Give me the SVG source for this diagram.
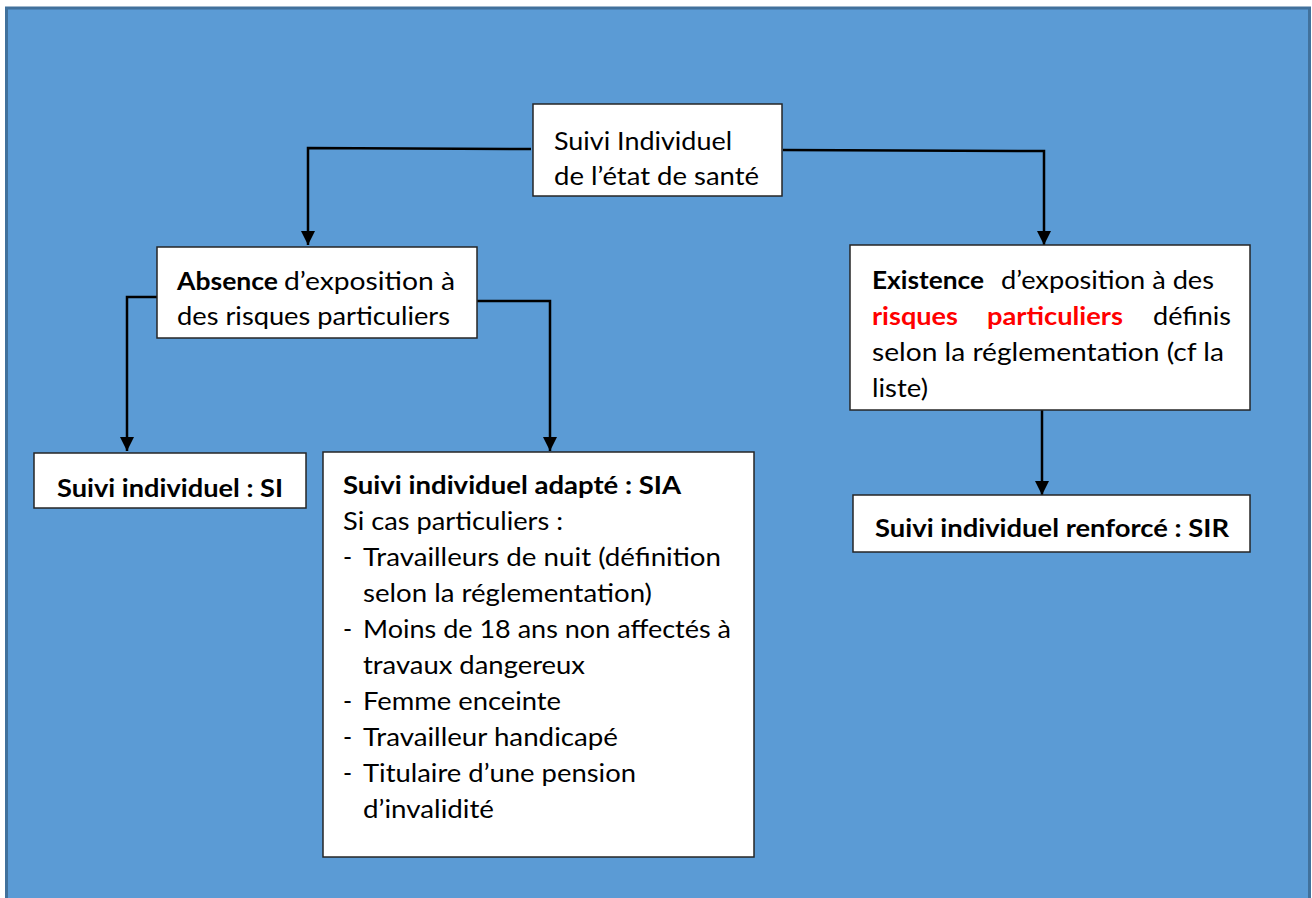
<svg xmlns="http://www.w3.org/2000/svg" width="1312" height="898" viewBox="0 0 1312 898">
<defs>
<style>
.bg{fill:#5B9BD5;stroke:#41719C;stroke-width:3}
.box{fill:#FFFFFF;stroke:#262626;stroke-width:1.5}
.t{font-family:Lato,"Liberation Sans",sans-serif;font-size:24.5px;fill:#000}
.b{font-weight:bold}
.red{fill:#FF0000;font-weight:bold}
.c{fill:none;stroke:#000;stroke-width:2.5}
</style>
<marker id="arr" viewBox="0 0 10 10" refX="10" refY="5" markerWidth="5.8" markerHeight="5.8" markerUnits="strokeWidth" orient="auto">
<path d="M0,0 L10,5 L0,10 z" fill="#000"/>
</marker>
</defs>
<rect width="1312" height="898" fill="#FFFFFF"/>
<rect class="bg" x="6.5" y="8" width="1303" height="900"/>

<g id="connectors">
<path class="c" d="M531,149 L308,148 L308,245" marker-end="url(#arr)"/>
<path class="c" d="M783,150 L1044,151 L1044,245" marker-end="url(#arr)"/>
<path class="c" d="M160,297 L127,297 L127,451" marker-end="url(#arr)"/>
<path class="c" d="M477,301 L550,301 L550,451" marker-end="url(#arr)"/>
<path class="c" d="M1042,410 L1042,495" marker-end="url(#arr)"/>
</g>

<g id="node-top">
<rect class="box" x="533" y="104" width="249" height="92"/>
<text class="t" x="554" y="150" textLength="178" lengthAdjust="spacingAndGlyphs">Suivi Individuel</text>
<text class="t" x="554" y="185" textLength="205" lengthAdjust="spacingAndGlyphs">de l’état de santé</text>
</g>

<g id="node-absence">
<rect class="box" x="157" y="247" width="320" height="91"/>
<text class="t" y="290"><tspan class="b" x="177" textLength="101" lengthAdjust="spacingAndGlyphs">Absence</tspan><tspan x="284" textLength="171" lengthAdjust="spacingAndGlyphs">d’exposition à</tspan></text>
<text class="t" x="177" y="325" textLength="273" lengthAdjust="spacingAndGlyphs">des risques particuliers</text>
</g>

<g id="node-existence">
<rect class="box" x="850" y="245" width="400" height="165"/>
<text class="t" y="289"><tspan class="b" x="872" textLength="112" lengthAdjust="spacingAndGlyphs">Existence</tspan><tspan x="1001" textLength="213" lengthAdjust="spacingAndGlyphs">d’exposition à des</tspan></text>
<text class="t" y="325"><tspan class="red" x="872" textLength="86" lengthAdjust="spacingAndGlyphs">risques</tspan><tspan class="red" x="987" textLength="136" lengthAdjust="spacingAndGlyphs">particuliers</tspan><tspan x="1153" textLength="78" lengthAdjust="spacingAndGlyphs">définis</tspan></text>
<text class="t" x="872" y="361" textLength="352" lengthAdjust="spacingAndGlyphs">selon la  réglementation (cf la</text>
<text class="t" x="872" y="397" textLength="56" lengthAdjust="spacingAndGlyphs">liste)</text>
</g>

<g id="node-si">
<rect class="box" x="34" y="453" width="272" height="55"/>
<text class="t b" x="57" y="497" textLength="226" lengthAdjust="spacingAndGlyphs">Suivi individuel : SI</text>
</g>

<g id="node-sia">
<rect class="box" x="323" y="452" width="431" height="405"/>
<text class="t b" x="343" y="494" textLength="338" lengthAdjust="spacingAndGlyphs">Suivi individuel adapté : SIA</text>
<text class="t" x="343" y="530" textLength="220" lengthAdjust="spacingAndGlyphs">Si cas particuliers :</text>
<text class="t" x="343" y="566">-</text>
<text class="t" x="363" y="566" textLength="358" lengthAdjust="spacingAndGlyphs">Travailleurs de nuit (définition</text>
<text class="t" x="363" y="602" textLength="289" lengthAdjust="spacingAndGlyphs">selon la réglementation)</text>
<text class="t" x="343" y="638">-</text>
<text class="t" x="363" y="638" textLength="368" lengthAdjust="spacingAndGlyphs">Moins de 18 ans non affectés à</text>
<text class="t" x="363" y="674" textLength="222" lengthAdjust="spacingAndGlyphs">travaux dangereux</text>
<text class="t" x="343" y="710">-</text>
<text class="t" x="363" y="710" textLength="198" lengthAdjust="spacingAndGlyphs">Femme enceinte</text>
<text class="t" x="343" y="746">-</text>
<text class="t" x="363" y="746" textLength="255" lengthAdjust="spacingAndGlyphs">Travailleur handicapé</text>
<text class="t" x="343" y="782">-</text>
<text class="t" x="363" y="782" textLength="273" lengthAdjust="spacingAndGlyphs">Titulaire d’une pension</text>
<text class="t" x="363" y="818" textLength="131" lengthAdjust="spacingAndGlyphs">d’invalidité</text>
</g>

<g id="node-sir">
<rect class="box" x="853" y="495" width="397" height="57"/>
<text class="t b" x="875" y="537" textLength="354" lengthAdjust="spacingAndGlyphs">Suivi individuel renforcé : SIR</text>
</g>
</svg>
